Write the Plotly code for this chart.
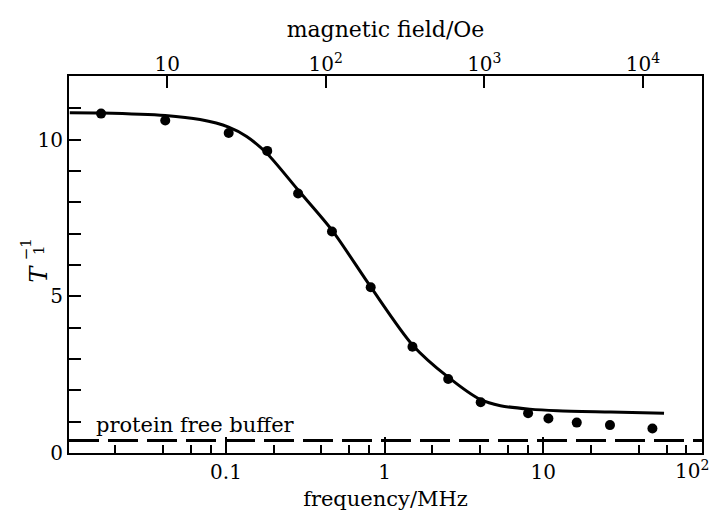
import math
import plotly.graph_objects as go

# Measured proton relaxation rates T1^-1 against Larmor frequency (MHz)
freq_mhz = [0.0163, 0.0414, 0.104, 0.182, 0.285, 0.466, 0.818, 1.50,
            2.52, 4.04, 8.04, 10.8, 16.3, 26.4, 48.9]
rate = [10.83, 10.61, 10.21, 9.64, 8.28, 7.07, 5.29, 3.39,
        2.36, 1.62, 1.27, 1.10, 0.97, 0.89, 0.78]

# Fitted dispersion curve
fit_freq = [0.01035, 0.0163, 0.0414, 0.0686, 0.104, 0.135, 0.182, 0.285,
            0.466, 0.818, 1.50, 2.52, 4.04, 5.38, 8.24, 12.3, 26.7, 57.9]
fit_rate = [10.86, 10.85, 10.77, 10.64, 10.40, 10.10, 9.55, 8.39,
            7.11, 5.30, 3.45, 2.42, 1.70, 1.51, 1.40, 1.35, 1.31, 1.27]

# Relaxation rate of the protein-free buffer
buffer_rate = 0.40

# Proton gyromagnetic ratio: MHz per oersted
gamma_mhz_per_oe = 4.258e-3

# Axis settings
freq_range_log = [-1.99, 2.002]
freq_ticks = [0.1, 1, 10, 100]
freq_ticktext = ["0.1", "1", "10", ""]   # last label placed separately at the edge
edge_tick_label = "10<sup>2</sup>"
field_ticks = [10, 100, 1000, 10000]
field_ticktext = ["10", "10<sup>2</sup>", "10<sup>3</sup>", "10<sup>4</sup>"]
rate_ticks = list(range(0, 12))
rate_ticktext = ["0", "", "", "", "", "5", "", "", "", "", "10", ""]

minor_freq = [m * 10.0 ** e for e in (-2, -1, 0, 1) for m in (2, 4, 6, 8)]
minor_freq = [v for v in minor_freq if 0.0102 < v < 99]

FONT = "DejaVu Serif"
INK = "black"

fig = go.Figure()

fig.add_trace(go.Scatter(
    x=fit_freq, y=fit_rate, mode="lines",
    line=dict(color=INK, width=3, shape="spline", smoothing=0.8),
    hoverinfo="skip", showlegend=False))

fig.add_trace(go.Scatter(
    x=freq_mhz, y=rate, mode="markers",
    marker=dict(color=INK, size=10),
    showlegend=False))

# invisible trace carrying the magnetic-field axis
field_range_log = [v - math.log10(gamma_mhz_per_oe) for v in freq_range_log]
fig.add_trace(go.Scatter(
    x=[10 ** field_range_log[0], 10 ** field_range_log[1]], y=[1, 1],
    xaxis="x2", mode="markers", marker=dict(opacity=0),
    hoverinfo="skip", showlegend=False))

fig.add_shape(type="line", xref="x domain", yref="y",
              x0=0, x1=1, y0=buffer_rate, y1=buffer_rate,
              line=dict(color=INK, width=3, dash="30px,9px"))

fig.add_annotation(text="protein free buffer", xref="paper", yref="y",
                   x=0.040, y=0.90, xanchor="left", yanchor="middle",
                   showarrow=False, font=dict(family=FONT, size=21, color=INK))

# rightmost frequency label, kept inside the page
fig.add_annotation(text=edge_tick_label, xref="x", yref="paper",
                   x=math.log10(freq_ticks[-1]), y=-0.046,
                   xanchor="right", yanchor="middle", xshift=9,
                   showarrow=False, font=dict(family=FONT, size=20, color=INK))

# y-axis title T1^-1 built from stacked parts
fig.add_annotation(text="<i>T</i>", xref="paper", yref="paper",
                   x=-0.073, y=0.475, textangle=-90, showarrow=False,
                   font=dict(family=FONT, size=24, color=INK))
fig.add_annotation(text="\u22121", xref="paper", yref="paper",
                   x=-0.084, y=0.54, textangle=-90, showarrow=False,
                   font=dict(family=FONT, size=15, color=INK))
fig.add_annotation(text="1", xref="paper", yref="paper",
                   x=-0.064, y=0.54, textangle=-90, showarrow=False,
                   font=dict(family=FONT, size=15, color=INK))

fig.update_layout(
    width=712, height=515,
    margin=dict(l=69, r=10, t=76, b=62),
    paper_bgcolor="white", plot_bgcolor="white",
    font=dict(family=FONT, size=20, color=INK),
    xaxis=dict(
        type="log", range=freq_range_log, automargin=False,
        tickvals=freq_ticks, ticktext=freq_ticktext,
        ticks="inside", ticklen=16, tickwidth=2, tickcolor=INK,
        minor=dict(tickvals=minor_freq, ticks="inside", ticklen=8,
                   tickwidth=1.5, tickcolor=INK, showgrid=False),
        showline=True, linecolor=INK, linewidth=2, mirror=True,
        showgrid=False, zeroline=False,
        title=dict(text="frequency/MHz", standoff=8,
                   font=dict(family=FONT, size=21)),
    ),
    xaxis2=dict(
        type="log", range=field_range_log, overlaying="x", side="top",
        automargin=False,
        tickvals=field_ticks, ticktext=field_ticktext,
        ticks="inside", ticklen=12, tickwidth=2, tickcolor=INK,
        showline=False, showgrid=False, zeroline=False,
        title=dict(text="magnetic field/Oe", standoff=5,
                   font=dict(family=FONT, size=22)),
    ),
    yaxis=dict(
        range=[0, 12.03], automargin=False,
        tickvals=rate_ticks, ticktext=rate_ticktext,
        ticks="inside", ticklen=12, tickwidth=2, tickcolor=INK,
        showline=True, linecolor=INK, linewidth=2, mirror=True,
        showgrid=False, zeroline=False,
    ),
)

fig.write_html("out.html")
